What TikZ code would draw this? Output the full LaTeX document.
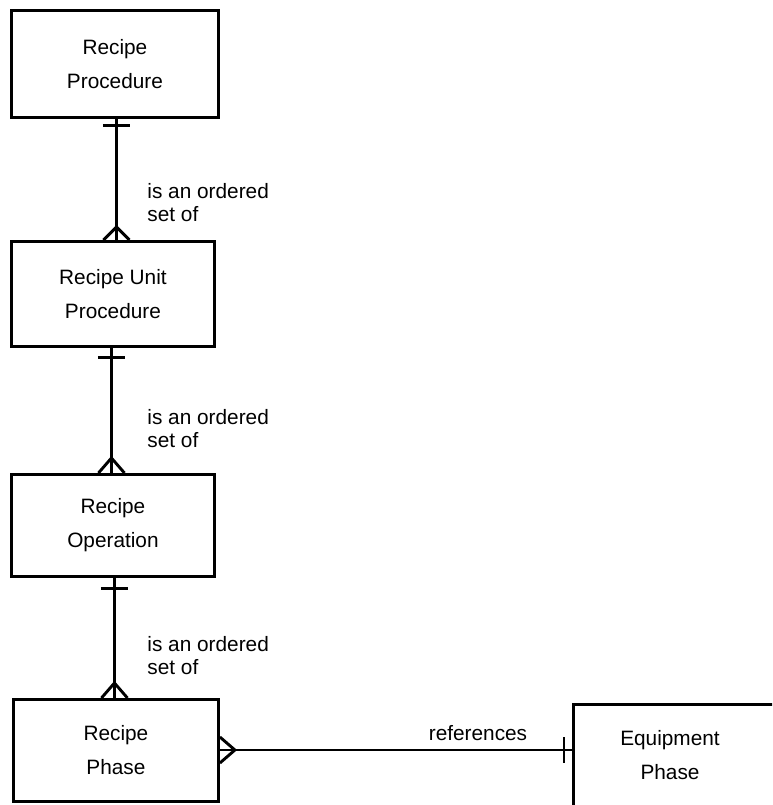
\documentclass[tikz,border=0pt]{standalone}
\usepackage{fontspec}
\setmainfont{Liberation Sans}
\usetikzlibrary{calc}
\begin{document}
\begin{tikzpicture}[x=1pt,y=-1pt,
  line width=2.9pt,
  box/.style={draw, rectangle, inner sep=0pt, anchor=north west, align=center,
    font=\fontsize{20.8}{34}\selectfont},
  lbl/.style={anchor=west, align=left, inner sep=0pt, font=\fontsize{20.8}{23}\selectfont},
  rel/.style={line width=2.9pt}]
\useasboundingbox (0,0) rectangle (772,805);
\begin{scope}
\clip (0,0) rectangle (772,805);
\node[box, minimum width=207, minimum height=107] (p1) at (10,9) {Recipe\\Procedure};
\node[box, minimum width=203, minimum height=105] (p2) at (10,240) {Recipe Unit\\Procedure};
\node[box, minimum width=203, minimum height=102] (p3) at (10,473) {Recipe\\Operation};
\node[box, minimum width=205, minimum height=102] (p4) at (12,698) {Recipe\\Phase};
\node[box, minimum width=260, minimum height=140] (e) at (572,703) {};
\node[font=\fontsize{20.8}{34}\selectfont, align=center, inner sep=0pt] (et) at (670,755) {Equipment\\Phase};

% connector 1
\coordinate (a1) at ([xshift=1.5pt]p1.south);
\coordinate (b1) at (a1 |- p2.north);
\draw[rel] (a1) -- (b1);
\draw[rel] ($(a1)+(-13.5,7)$) -- ($(a1)+(13.5,7)$);
\draw[rel] ($(b1)+(-13,0)$) -- ($(b1)+(0,-13)$) -- ($(b1)+(13,0)$);
% connector 2
\coordinate (a2) at ([xshift=-1.5pt]p2.south);
\coordinate (b2) at (a2 |- p3.north);
\draw[rel] (a2) -- (b2);
\draw[rel] ($(a2)+(-13.5,10)$) -- ($(a2)+(13.5,10)$);
\draw[rel] ($(b2)+(-13,0)$) -- ($(b2)+(0,-15)$) -- ($(b2)+(13,0)$);
% connector 3
\coordinate (a3) at ([xshift=1.5pt]p3.south);
\coordinate (b3) at (a3 |- p4.north);
\draw[rel] (a3) -- (b3);
\draw[rel] ($(a3)+(-13.5,11)$) -- ($(a3)+(13.5,11)$);
\draw[rel] ($(b3)+(-13,0)$) -- ($(b3)+(0,-15)$) -- ($(b3)+(13,0)$);
% connector 4
\coordinate (a4) at (p4.east |- 0,750);
\coordinate (b4) at (e.west |- 0,750);
\draw[rel] (a4) -- (b4);
\draw[rel] ($(a4)+(0,-13)$) -- ($(a4)+(15,0)$) -- ($(a4)+(0,13)$);
\draw[rel] ($(b4)+(-8,-13)$) -- ($(b4)+(-8,13)$);
\end{scope}

\node[lbl] (l1) at (146,203) {is an ordered\\set of};
\node[lbl] (l2) at (146,429) {is an ordered\\set of};
\node[lbl] (l3) at (146,656) {is an ordered\\set of};
\node[font=\fontsize{20.8}{23}\selectfont, inner sep=0pt] (l4) at (478,733) {references};
\end{tikzpicture}
\end{document}
